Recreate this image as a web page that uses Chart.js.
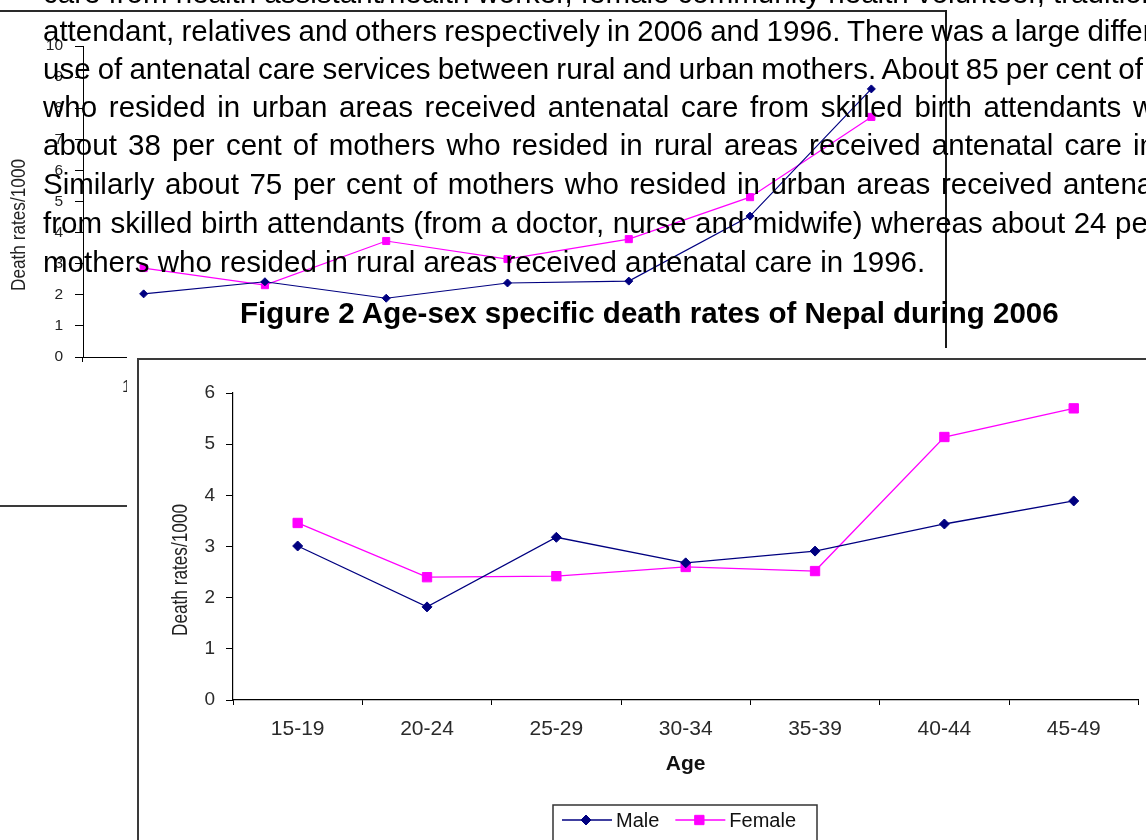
<!DOCTYPE html>
<html>
<head>
<meta charset="utf-8">
<script src="https://cdn.jsdelivr.net/npm/chart.js@4/dist/chart.umd.min.js"></script>
<style>
  html, body { margin: 0; padding: 0; background: #fff; }
  body { width: 1146px; height: 840px; position: relative; overflow: hidden;
         font-family: "Liberation Sans", Arial, sans-serif; }
  .abs { position: absolute; }
  #upperWrap { left: 0; top: 0; width: 946px; height: 400px; }
  #topRule { left: 0; top: 10px; width: 947px; height: 2px; background: #2a2a2a; }
  #rightRule { left: 945px; top: 10px; width: 2px; height: 338px; background: #1a1a1a; }
  #sideRule { left: 0; top: 505px; width: 127px; height: 2px; background: #3a3a3a; }
  #textLayer { left: 0; top: 0; width: 1146px; height: 840px; }
  #lowerCover { left: 127px; top: 348px; width: 1019px; height: 492px; background: #fff; }
  #lowerBox { left: 137px; top: 358px; width: 1009px; height: 482px; box-sizing: border-box;
              border-top: 2px solid #3a3a3a; border-left: 2px solid #3a3a3a; }
  #lowerWrap { left: 139px; top: 361px; width: 1007px; height: 479px; }
</style>
</head>
<body>
<div id="upperWrap" class="abs"><canvas id="upperChart" width="946" height="400" style="width:946px;height:400px"></canvas></div>
<div id="topRule" class="abs"></div>
<div id="rightRule" class="abs"></div>
<div id="sideRule" class="abs"></div>
<svg id="textLayer" class="abs" width="1146" height="840" xmlns="http://www.w3.org/2000/svg"></svg>
<div id="lowerCover" class="abs"></div>
<div id="lowerBox" class="abs"></div>
<div id="lowerWrap" class="abs"><canvas id="lowerChart" width="1007" height="479" style="width:1007px;height:479px"></canvas></div>

<script>
// ---------------- DATA ----------------
const ageGroups = ['15-19', '20-24', '25-29', '30-34', '35-39', '40-44', '45-49'];

// Figure 2 (2006)
const male2006   = [3.01, 1.82, 3.18, 2.68, 2.91, 3.44, 3.89];
const female2006 = [3.46, 2.40, 2.42, 2.60, 2.52, 5.14, 5.70];

// Partly hidden chart behind the text (upper)
const maleUpper   = [2.03, 2.42, 1.89, 2.38, 2.44, 4.53, 8.62];
const femaleUpper = [2.86, 2.31, 3.73, 3.15, 3.79, 5.14, 7.72];

const upperTicks = [0, 1, 2, 3, 4, 5, 6, 7, 8, 9, 10];
const lowerTicks = [0, 1, 2, 3, 4, 5, 6];

const seriesNames = ['Male', 'Female'];
const yTitleText = 'Death rates/1000';
const xTitleText = 'Age';
const figureTitle = 'Figure 2 Age-sex specific death rates of Nepal during 2006';

const paragraph = [
  'care from health assistant/health worker, female community health volunteer, traditional birth',
  'attendant, relatives and others respectively in 2006 and 1996. There was a large difference in the',
  'use of antenatal care services between rural and urban mothers. About 85 per cent of mothers',
  'who resided in urban areas received antenatal care from skilled birth attendants whereas',
  'about 38 per cent of mothers who resided in rural areas received antenatal care in 2006.',
  'Similarly about 75 per cent of mothers who resided in urban areas received antenatal care',
  'from skilled birth attendants (from a doctor, nurse and midwife) whereas about 24 per cent of',
  'mothers who resided in rural areas received antenatal care in 1996.'
];

// ---------------- TEXT LAYER ----------------
const FAMILY = '"Liberation Sans", Arial, sans-serif';
const textSize = 29.5;
const textLeft = 43;
// layout of lines: baseline and a justification anchor (word index, word start x)
const lineLayout = [
  { baseline: 3,   anchor: null },
  { baseline: 41,  anchor: [13, 1088] },
  { baseline: 79,  anchor: [14, 1120] },
  { baseline: 117, anchor: [12, 1133] },
  { baseline: 155, anchor: [14, 1133] },
  { baseline: 194, anchor: [13, 1063] },
  { baseline: 233, anchor: [13, 1115] },
  { baseline: 272, anchor: null }
];

const svgNS = 'http://www.w3.org/2000/svg';
const svg = document.getElementById('textLayer');
const mctx = document.createElement('canvas').getContext('2d');
mctx.font = textSize + 'px ' + FAMILY;

paragraph.forEach((line, i) => {
  const lay = lineLayout[i];
  let ws = 0;
  if (lay.anchor) {
    const words = line.split(' ');
    const [idx, tx] = lay.anchor;
    const natural = mctx.measureText(words.slice(0, idx).join(' ') + ' ').width;
    ws = (tx - textLeft - natural) / idx;
  }
  const t = document.createElementNS(svgNS, 'text');
  t.setAttribute('x', textLeft);
  t.setAttribute('y', lay.baseline);
  t.setAttribute('font-family', FAMILY);
  t.setAttribute('font-size', textSize);
  t.setAttribute('fill', '#000');
  t.style.wordSpacing = ws + 'px';
  t.style.whiteSpace = 'pre';
  t.textContent = line;
  svg.appendChild(t);
});

const ft = document.createElementNS(svgNS, 'text');
ft.setAttribute('x', 240);
ft.setAttribute('y', 323);
ft.setAttribute('font-family', FAMILY);
ft.setAttribute('font-size', 29.5);
ft.setAttribute('font-weight', 'bold');
ft.setAttribute('fill', '#000');
ft.textContent = figureTitle;
svg.appendChild(ft);

// ---------------- PLUGINS ----------------
// Rotated, horizontally condensed axis title (narrow face look)
const yTitlePlugin = {
  id: 'yTitle',
  afterDraw(chart, args, o) {
    const c = chart.ctx;
    c.save();
    c.translate(o.x, o.y);
    c.rotate(-Math.PI / 2);
    c.scale(o.condense, 1);
    c.font = o.fontSize + 'px ' + FAMILY;
    c.fillStyle = o.color;
    c.textAlign = 'center';
    c.textBaseline = 'middle';
    c.fillText(o.text, 0, 0);
    c.restore();
  }
};

function drawMarker(c, style, r, x, y, color) {
  c.save();
  c.fillStyle = color; c.strokeStyle = color; c.lineWidth = 1;
  c.beginPath();
  if (style === 'rectRot') {
    c.moveTo(x - r, y); c.lineTo(x, y - r); c.lineTo(x + r, y); c.lineTo(x, y + r); c.closePath();
  } else {
    const s = r * Math.SQRT1_2;
    c.rect(x - s, y - s, 2 * s, 2 * s);
  }
  c.fill(); c.stroke();
  c.restore();
}

const boxLegendPlugin = {
  id: 'boxLegend',
  afterDraw(chart, args, o) {
    const c = chart.ctx;
    c.save();
    c.strokeStyle = '#333';
    c.lineWidth = 1.5;
    c.strokeRect(o.left, o.top, o.right - o.left, o.height);
    c.font = o.fontSize + 'px ' + FAMILY;
    c.textBaseline = 'middle';
    c.textAlign = 'left';
    let x = o.left + 9;
    chart.data.datasets.forEach(ds => {
      c.strokeStyle = ds.borderColor;
      c.lineWidth = 1.3;
      c.beginPath(); c.moveTo(x, o.rowY); c.lineTo(x + 50, o.rowY); c.stroke();
      drawMarker(c, ds.pointStyle, ds.pointRadius, x + 24, o.rowY, ds.borderColor);
      c.fillStyle = '#111';
      c.fillText(ds.label, x + 54, o.rowY + 1);
      x += 54 + c.measureText(ds.label).width + 16;
    });
    c.restore();
  }
};

Chart.defaults.font.family = FAMILY;

// ---------------- UPPER (partly hidden) CHART ----------------
new Chart(document.getElementById('upperChart'), {
  type: 'line',
  data: {
    labels: ageGroups,
    datasets: [
      { label: seriesNames[0], data: maleUpper, borderColor: '#000080', backgroundColor: '#000080',
        borderWidth: 1.2, pointStyle: 'rectRot', pointRadius: 4, pointBorderWidth: 1, tension: 0 },
      { label: seriesNames[1], data: femaleUpper, borderColor: '#ff00ff', backgroundColor: '#ff00ff',
        borderWidth: 1.2, pointStyle: 'rect', pointRadius: 5, pointBorderWidth: 1, tension: 0 }
    ]
  },
  options: {
    responsive: false, animation: false, events: [],
    layout: { padding: { top: 46, right: 14, left: 0, bottom: 0 } },
    plugins: {
      legend: { display: false }, tooltip: { enabled: false },
      yTitle: { text: yTitleText, x: 19, y: 225, fontSize: 21, condense: 0.82, color: '#222' }
    },
    scales: {
      x: {
        type: 'category', offset: true,
        grid: { offset: true, drawOnChartArea: false, color: '#000', tickLength: 5 },
        border: { color: '#000', width: 1 },
        ticks: { color: '#222', font: { size: 17 }, padding: 15, maxRotation: 0, autoSkip: false },
        afterFit: s => { s.height = 43; }
      },
      y: {
        min: 0, max: 10,
        afterBuildTicks: s => { s.ticks = upperTicks.map(v => ({ value: v })); },
        ticks: { color: '#222', font: { size: 15.5 }, padding: 12 },
        grid: { drawOnChartArea: false, color: '#000', tickLength: 8 },
        border: { color: '#000', width: 1 },
        afterFit: s => { s.width = 83; }
      }
    }
  },
  plugins: [yTitlePlugin]
});

// ---------------- FIGURE 2 CHART ----------------
new Chart(document.getElementById('lowerChart'), {
  type: 'line',
  data: {
    labels: ageGroups,
    datasets: [
      { label: seriesNames[0], data: male2006, borderColor: '#000080', backgroundColor: '#000080',
        borderWidth: 1.3, pointStyle: 'rectRot', pointRadius: 5, pointBorderWidth: 1, tension: 0 },
      { label: seriesNames[1], data: female2006, borderColor: '#ff00ff', backgroundColor: '#ff00ff',
        borderWidth: 1.3, pointStyle: 'rect', pointRadius: 6.6, pointBorderWidth: 1, tension: 0 }
    ]
  },
  options: {
    responsive: false, animation: false, events: [],
    layout: { padding: { top: 32, right: 6, left: 0, bottom: 0 } },
    plugins: {
      legend: { display: false }, tooltip: { enabled: false },
      yTitle: { text: yTitleText, x: 42.5, y: 209, fontSize: 21.5, condense: 0.8, color: '#222' },
      boxLegend: { left: 414, top: 444, right: 678, height: 60, rowY: 459, fontSize: 20 }
    },
    scales: {
      x: {
        type: 'category', offset: true,
        grid: { offset: true, drawOnChartArea: false, color: '#000', tickLength: 5 },
        border: { color: '#000', width: 1.2 },
        ticks: { color: '#2a2a2a', font: { size: 21 }, padding: 12, maxRotation: 0, autoSkip: false },
        title: { display: true, text: xTitleText, color: '#111', font: { size: 21, weight: 'bold' },
                 padding: { top: 0, bottom: 63 } },
        afterFit: s => { s.height = 140; }
      },
      y: {
        min: 0, max: 6,
        afterBuildTicks: s => { s.ticks = lowerTicks.map(v => ({ value: v })); },
        ticks: { color: '#2a2a2a', font: { size: 19 }, padding: 11 },
        grid: { drawOnChartArea: false, color: '#000', tickLength: 7 },
        border: { color: '#000', width: 1.2 },
        afterFit: s => { s.width = 94; }
      }
    }
  },
  plugins: [yTitlePlugin, boxLegendPlugin]
});
</script>
</body>
</html>
